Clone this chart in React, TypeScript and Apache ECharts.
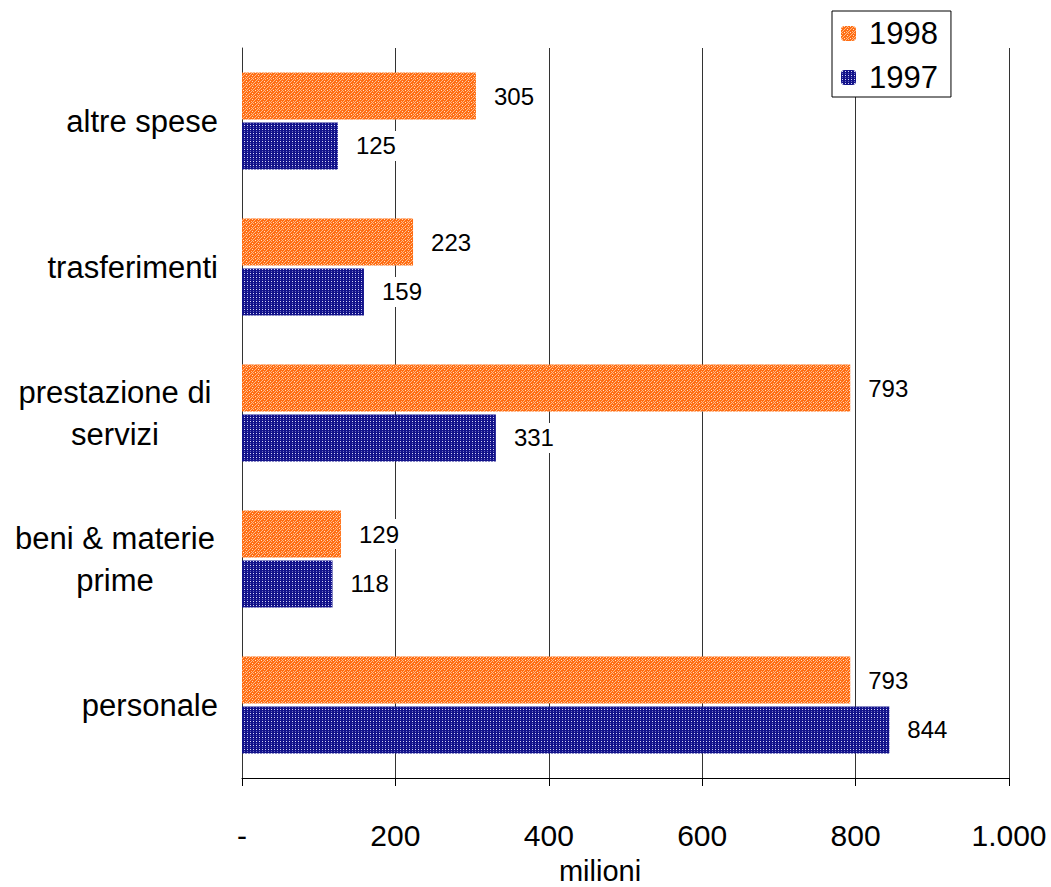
import React, { useEffect, useRef } from "react";
import * as echarts from "echarts";

const categories = ["personale", "beni & materie\nprime", "prestazione di\nservizi", "trasferimenti", "altre spese"];
const values1998 = [793, 129, 793, 223, 305];
const values1997 = [844, 118, 331, 159, 125];
const xTicks = { min: 0, max: 1000, interval: 200 };
const axisName = "milioni";

function makeTile(kind: "orange" | "blue") {
  const c = document.createElement("canvas");
  const w = kind === "orange" ? 6 : 3;
  const h = kind === "orange" ? 6 : 4;
  c.width = w;
  c.height = h;
  const ctx = c.getContext("2d")!;
  if (kind === "orange") {
    ctx.fillStyle = "#FF6E14";
    ctx.fillRect(0, 0, w, h);
    ctx.fillStyle = "#FFB987";
    ctx.fillRect(0, 0, 1, 1);
    ctx.fillRect(3, 3, 1, 1);
    ctx.fillRect(1, 1, 1, 1);
    ctx.fillRect(5, 5, 1, 1);
    ctx.fillRect(1, 5, 1, 1);
    ctx.fillRect(5, 1, 1, 1);
    ctx.fillRect(2, 4, 1, 1);
    ctx.fillRect(4, 2, 1, 1);
    ctx.fillStyle = "#FFE0C8";
    ctx.fillRect(0, 3, 1, 1);
    ctx.fillRect(3, 0, 1, 1);
  } else {
    ctx.fillStyle = "#12128A";
    ctx.fillRect(0, 0, w, h);
    ctx.fillStyle = "#D8D8F8";
    ctx.fillRect(1, 1, 1, 1);
    ctx.fillStyle = "#6A6AC0";
    ctx.fillRect(1, 3, 1, 1);
  }
  return c;
}

export default function App() {
  const ref = useRef<HTMLDivElement>(null);
  useEffect(() => {
    if (!ref.current) return;
    const chart = echarts.init(ref.current, null, { renderer: "svg" });
    const orangeTile = makeTile("orange");
    const blueTile = makeTile("blue");
    const font = "Liberation Sans, Arial, sans-serif";
    const labelCfg = {
      show: true,
      position: "right",
      distance: 14,
      fontSize: 24,
      fontFamily: font,
      color: "#000",
      backgroundColor: "#fff",
      padding: [3, 4],
    };
    chart.setOption({
      animation: false,
      backgroundColor: "#fff",
      textStyle: { fontFamily: font },
      grid: { left: 242, right: 42, top: 48, bottom: 109, containLabel: false },
      legend: {
        data: ["1998", "1997"],
        orient: "vertical",
        left: 832,
        top: 11,
        backgroundColor: "#fff",
        borderColor: "#000",
        borderWidth: 1,
        borderRadius: 0,
        padding: [7, 13, 4, 9],
        itemWidth: 15,
        itemHeight: 15,
        itemGap: 13,
        textStyle: { fontSize: 31, color: "#000", fontFamily: font, padding: [0, 0, 0, 8] },
      },
      xAxis: {
        type: "value",
        min: xTicks.min,
        max: xTicks.max,
        interval: xTicks.interval,
        axisLine: { show: true, lineStyle: { color: "#000", width: 1 } },
        axisTick: { show: true, length: 8, lineStyle: { color: "#000" } },
        splitLine: { show: true, lineStyle: { color: "#333", width: 1 } },
        axisLabel: {
          fontSize: 30,
          color: "#000",
          margin: 42,
          fontFamily: font,
          formatter: (v: number) => (v === 0 ? "-" : String(v).replace(/\B(?=(\d{3})+(?!\d))/g, ".")),
        },
      },
      yAxis: {
        type: "category",
        data: categories,
        axisLine: { show: true, lineStyle: { color: "#333", width: 1 } },
        axisTick: { show: false },
        axisLabel: {
          fontSize: 31,
          color: "#000",
          margin: 24,
          fontFamily: font,
          lineHeight: 42,
          formatter: (v: string) =>
            v.indexOf("\n") >= 0
              ? v.split("\n").map((l) => "{c|" + l + "}").join("\n")
              : v,
          rich: {
            c: { fontSize: 31, lineHeight: 42, width: 206, align: "center", fontFamily: font, color: "#000" },
          },
        },
      },
      graphic: [
        {
          type: "text",
          x: 600,
          y: 871,
          style: { text: axisName, fontSize: 29, fontFamily: font, fill: "#000", align: "center", verticalAlign: "middle" },
        },
      ],
      series: [
        {
          name: "1998",
          type: "bar",
          data: values1998,
          barWidth: 47,
          barGap: "6%",
          itemStyle: { color: { image: orangeTile, repeat: "repeat", imageWidth: 6, imageHeight: 6 } },
          label: labelCfg,
        },
        {
          name: "1997",
          type: "bar",
          data: values1997,
          barWidth: 47,
          barGap: "6%",
          itemStyle: { color: { image: blueTile, repeat: "repeat", imageWidth: 3, imageHeight: 4 } },
          label: labelCfg,
        },
      ],
    });
    return () => chart.dispose();
  }, []);
  return <div ref={ref} style={{ width: 1051, height: 887, position: "absolute", left: 0, top: 0 }} />;
}
